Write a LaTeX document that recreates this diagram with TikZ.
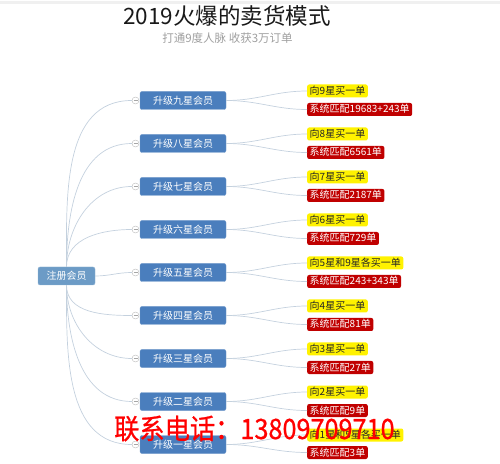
\documentclass[tikz,border=0pt]{standalone}
\usepackage{fontspec}
\setmainfont{Noto Sans CJK SC}
\newfontfamily\telfont[FakeBold=0.8]{Noto Sans CJK SC}
\usepackage{tikz}

\definecolor{rootblue}{RGB}{108,155,198}
\definecolor{lvblue}{RGB}{74,126,189}
\definecolor{sysred}{RGB}{192,0,0}
\definecolor{linkgray}{RGB}{196,209,222}
\definecolor{hotred}{RGB}{255,0,0}

\tikzset{
	rootbox/.style = {fill=rootblue, draw=rootblue!75!white, rounded corners=2pt, text=white,
		font=\fontsize{10}{12}\selectfont, minimum width=57pt, minimum height=18pt, inner sep=0pt},
	lvbox/.style = {fill=lvblue, draw=lvblue!80!white, rounded corners=2pt, text=white,
		font=\fontsize{10}{12}\selectfont, minimum width=86pt, minimum height=18pt, inner sep=0pt},
	fold/.style = {circle, draw=gray!55, fill=white, minimum size=7pt, inner sep=0pt,
		path picture={\draw [gray!70] ([xshift=1.5pt]path picture bounding box.west) -- ([xshift=-1.5pt]path picture bounding box.east);}},
	buybox/.style = {fill=yellow, rounded corners=2pt, text=black!85, anchor=west,
		font=\fontsize{10}{12}\selectfont, inner xsep=2.5pt, inner ysep=1.5pt, text height=8.5pt, text depth=1.5pt},
	sysbox/.style = {buybox, fill=sysred, text=white},
	link/.style = {draw=linkgray, line width=0.7pt}
}

\begin{document}
\begin{tikzpicture}[x=1pt, y=1pt]
	\useasboundingbox (0,0) rectangle (500,463);
	\fill [gray!12] (0,459) rectangle (500,461.5);
	\node [text=black!90, font=\fontsize{22.5}{24}\selectfont] (title) at (227,447.5) {2019火爆的卖货模式};
	\node [text=gray!75, font=\fontsize{11.5}{13}\selectfont] (subtitle) at (227.5,425) {打通9度人脉 收获3万订单};

	\node [rootbox] (root) at (66.5,187) {注册会员};

	\node [lvbox] (lv9) at (183,362.5) {升级九星会员};
	\node [lvbox] (lv8) at (183,319.5) {升级八星会员};
	\node [lvbox] (lv7) at (183,276.5) {升级七星会员};
	\node [lvbox] (lv6) at (183,233.5) {升级六星会员};
	\node [lvbox] (lv5) at (183,190.5) {升级五星会员};
	\node [lvbox] (lv4) at (183,147.5) {升级四星会员};
	\node [lvbox] (lv3) at (183,104.5) {升级三星会员};
	\node [lvbox] (lv2) at (183,61.5) {升级二星会员};
	\node [lvbox] (lv1) at (183,18.5) {升级一星会员};

	\node [fold] (c9) at (135.5,362.5) {};
	\node [fold] (c8) at (135.5,319.5) {};
	\node [fold] (c7) at (135.5,276.5) {};
	\node [fold] (c6) at (135.5,233.5) {};
	\node [fold] (c5) at (135.5,190.5) {};
	\node [fold] (c4) at (135.5,147.5) {};
	\node [fold] (c3) at (135.5,104.5) {};
	\node [fold] (c2) at (135.5,61.5) {};
	\node [fold] (c1) at (135.5,18.5) {};

	\draw [link] (root.north) to [out=90, in=180] (c9.west);
	\draw [link] (root.north) to [out=90, in=180] (c8.west);
	\draw [link] (root.north) to [out=90, in=180] (c7.west);
	\draw [link] (root.north) to [out=90, in=180] (c6.west);
	\draw [link] (root.east) to [out=0, in=180] (c5.west);
	\draw [link] (root.south) to [out=-90, in=180] (c4.west);
	\draw [link] (root.south) to [out=-90, in=180] (c3.west);
	\draw [link] (root.south) to [out=-90, in=180] (c2.west);
	\draw [link] (root.south) to [out=-90, in=180] (c1.west);

	\node [buybox] (buy9) at (307,372) {向9星买一单};
	\node [sysbox] (sys9) at (307,353.5) {系统匹配19683+243单};
	\node [buybox] (buy8) at (307,329) {向8星买一单};
	\node [sysbox] (sys8) at (307,310.5) {系统匹配6561单};
	\node [buybox] (buy7) at (307,286) {向7星买一单};
	\node [sysbox] (sys7) at (307,267.5) {系统匹配2187单};
	\node [buybox] (buy6) at (307,243) {向6星买一单};
	\node [sysbox] (sys6) at (307,224.5) {系统匹配729单};
	\node [buybox] (buy5) at (307,200) {向5星和9星各买一单};
	\node [sysbox] (sys5) at (307,181.5) {系统匹配243+343单};
	\node [buybox] (buy4) at (307,157) {向4星买一单};
	\node [sysbox] (sys4) at (307,138.5) {系统匹配81单};
	\node [buybox] (buy3) at (307,114) {向3星买一单};
	\node [sysbox] (sys3) at (307,95.5) {系统匹配27单};
	\node [buybox] (buy2) at (307,71) {向2星买一单};
	\node [sysbox] (sys2) at (307,52.5) {系统匹配9单};
	\node [buybox] (buy1) at (307,28) {向1星和5星各买一单};
	\node [sysbox] (sys1) at (307,10.5) {系统匹配3单};

	\draw [link] (lv9.east) to [out=0, in=180] (buy9.west);
	\draw [link] (lv9.east) to [out=0, in=180] (sys9.west);
	\draw [link] (lv8.east) to [out=0, in=180] (buy8.west);
	\draw [link] (lv8.east) to [out=0, in=180] (sys8.west);
	\draw [link] (lv7.east) to [out=0, in=180] (buy7.west);
	\draw [link] (lv7.east) to [out=0, in=180] (sys7.west);
	\draw [link] (lv6.east) to [out=0, in=180] (buy6.west);
	\draw [link] (lv6.east) to [out=0, in=180] (sys6.west);
	\draw [link] (lv5.east) to [out=0, in=180] (buy5.west);
	\draw [link] (lv5.east) to [out=0, in=180] (sys5.west);
	\draw [link] (lv4.east) to [out=0, in=180] (buy4.west);
	\draw [link] (lv4.east) to [out=0, in=180] (sys4.west);
	\draw [link] (lv3.east) to [out=0, in=180] (buy3.west);
	\draw [link] (lv3.east) to [out=0, in=180] (sys3.west);
	\draw [link] (lv2.east) to [out=0, in=180] (buy2.west);
	\draw [link] (lv2.east) to [out=0, in=180] (sys2.west);
	\draw [link] (lv1.east) to [out=0, in=180] (buy1.west);
	\draw [link] (lv1.east) to [out=0, in=180] (sys1.west);

	\node [text=hotred, anchor=west, inner sep=0pt, font=\telfont\fontsize{25}{26}\selectfont] (tel) at (114,34.5) {\scalebox{1.01}[1.12]{联系电话：13809709710}};
\end{tikzpicture}
\end{document}
